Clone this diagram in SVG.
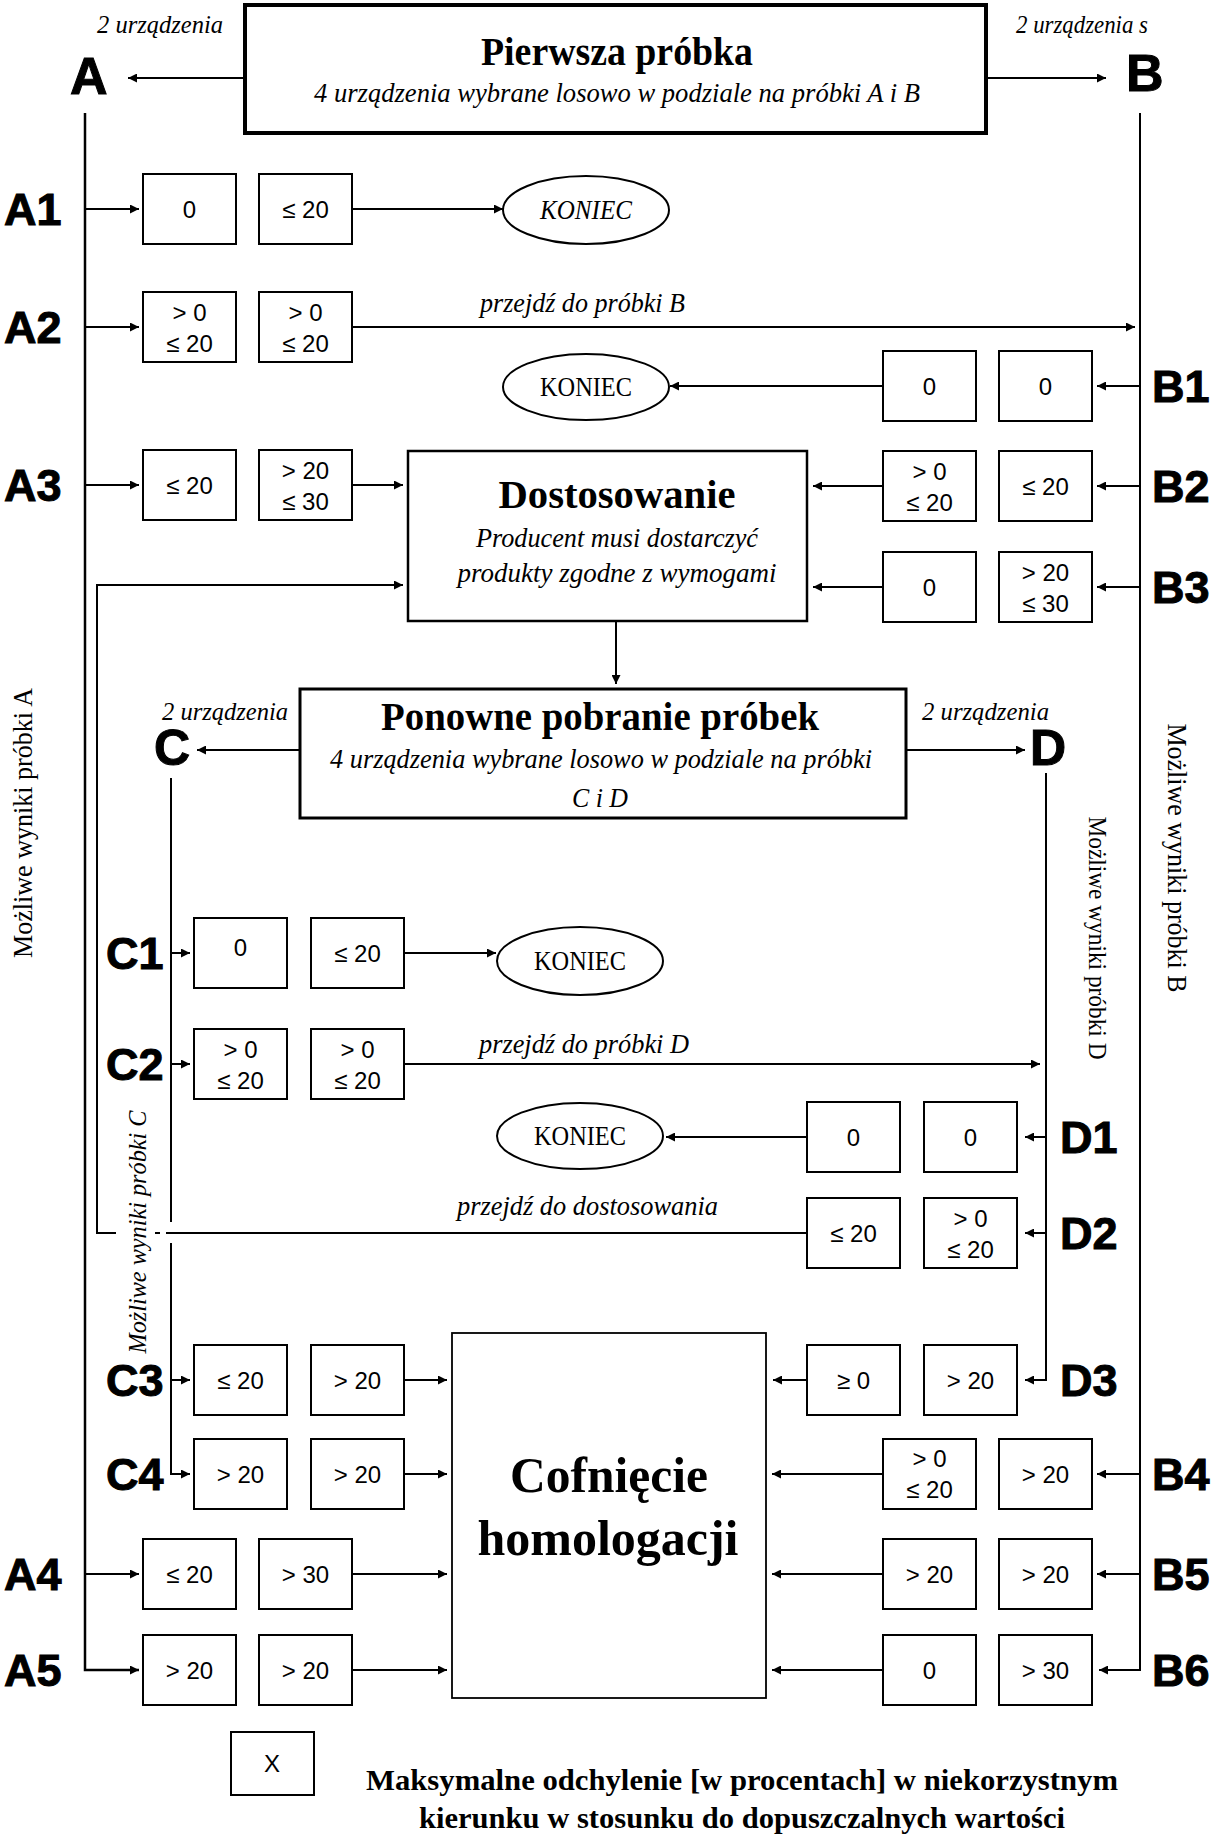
<svg xmlns="http://www.w3.org/2000/svg" width="1217" height="1840" viewBox="0 0 1217 1840">
<style>
.bg{fill:#fff}
.box{fill:#fff;stroke:#000;stroke-width:2}
.bt{font-family:"Liberation Sans",Arial,sans-serif;font-size:24px;text-anchor:middle;fill:#000}
.lbl{font-family:"Liberation Sans",Arial,sans-serif;font-weight:bold;font-size:45px;fill:#000;stroke:#000;stroke-width:1}
.big{font-family:"Liberation Sans",Arial,sans-serif;font-weight:bold;fill:#000;stroke:#000;stroke-width:1}
.it{font-family:"Liberation Serif","Times New Roman",serif;font-style:italic;fill:#000}
.ser{font-family:"Liberation Serif","Times New Roman",serif;fill:#000}
.bold{font-family:"Liberation Serif","Times New Roman",serif;font-weight:bold;fill:#000}
.mid{text-anchor:middle}
.ln{fill:none;stroke:#000;stroke-width:2}
.arr{marker-end:url(#ah)}
.ell{fill:#fff;stroke:#000;stroke-width:2}
</style>
<defs>
<marker id="ah" viewBox="0 0 10 10" refX="10" refY="5" markerWidth="10" markerHeight="9" markerUnits="userSpaceOnUse" orient="auto">
<path d="M0,0 L10,5 L0,10 z" fill="#000"/>
</marker>
</defs>
<rect class="bg" x="0" y="0" width="1217" height="1840"/>

<g id="connectors">
<path class="ln arr" d="M245,78 H128"/>
<path class="ln arr" d="M986,78 H1106"/>
<path class="ln arr" style="stroke-width:2.5" d="M85,113 V1670 H139"/>
<path class="ln arr" d="M1140,113 V1670 H1099"/>
<path class="ln arr" d="M85,209 H139"/>
<path class="ln arr" d="M352,209 H503"/>
<path class="ln arr" d="M85,327 H139"/>
<path class="ln arr" d="M352,327 H1135"/>
<path class="ln arr" d="M85,485 H139"/>
<path class="ln arr" d="M352,485 H403"/>
<path class="ln arr" d="M85,1574 H139"/>
<path class="ln arr" d="M352,1574 H447"/>
<path class="ln arr" d="M352,1670 H447"/>
<path class="ln arr" d="M1140,386 H1097"/>
<path class="ln arr" d="M883,386 H670"/>
<path class="ln arr" d="M1140,486 H1097"/>
<path class="ln arr" d="M883,486 H813"/>
<path class="ln arr" d="M1140,587 H1097"/>
<path class="ln arr" d="M883,587 H813"/>
<path class="ln arr" d="M1140,1474 H1097"/>
<path class="ln arr" d="M883,1474 H772"/>
<path class="ln arr" d="M1140,1574 H1097"/>
<path class="ln arr" d="M883,1574 H772"/>
<path class="ln arr" d="M883,1670 H772"/>
<path class="ln arr" d="M616,621 V684"/>
<path class="ln arr" d="M300,750 H197"/>
<path class="ln arr" d="M906,750 H1025"/>
<path class="ln" d="M171,778 V1222"/>
<path class="ln arr" d="M171,1243 V1474 H190"/>
<path class="ln arr" d="M171,953 H190"/>
<path class="ln arr" d="M405,953 H496"/>
<path class="ln arr" d="M171,1064 H190"/>
<path class="ln arr" d="M405,1064 H1040"/>
<path class="ln arr" d="M171,1380 H190"/>
<path class="ln arr" d="M405,1380 H447"/>
<path class="ln arr" d="M405,1474 H447"/>
<path class="ln arr" d="M1046,773 V1380 H1025"/>
<path class="ln arr" d="M1046,1137 H1025"/>
<path class="ln arr" d="M807,1137 H666"/>
<path class="ln arr" d="M1046,1233 H1025"/>
<path class="ln arr" d="M807,1380 H773"/>
<path class="ln" d="M807,1233 H166"/>
<path class="ln" d="M155,1233 H160"/>
<path class="ln arr" d="M116,1233 H97 V585 H403"/>
<text class="it" x="480" y="312" font-size="27" textLength="205" lengthAdjust="spacingAndGlyphs">przejdź do próbki B</text>
<text class="it" x="479" y="1053" font-size="27" textLength="210" lengthAdjust="spacingAndGlyphs">przejdź do próbki D</text>
<text class="it" x="457" y="1215" font-size="27" textLength="261" lengthAdjust="spacingAndGlyphs">przejdź do dostosowania</text>
</g>

<g id="node-first-sample">
<rect x="245" y="5" width="741" height="128" fill="#fff" stroke="#000" stroke-width="4"/>
<text class="bold mid" x="617" y="65" font-size="40" textLength="272" lengthAdjust="spacingAndGlyphs">Pierwsza próbka</text>
<text class="it mid" x="617" y="102" font-size="28" textLength="606" lengthAdjust="spacingAndGlyphs">4 urządzenia wybrane losowo w podziale na próbki A i B</text>
</g>

<g id="node-A">
<text class="it" x="97" y="33" font-size="26" textLength="126" lengthAdjust="spacingAndGlyphs">2 urządzenia</text>
<text class="big" x="70" y="94" font-size="52">A</text>
</g>
<g id="node-B">
<text class="it" x="1016" y="33" font-size="26" textLength="132" lengthAdjust="spacingAndGlyphs">2 urządzenia s</text>
<text class="big" x="1126" y="91" font-size="52">B</text>
</g>

<g id="label-A" transform="translate(32,823) rotate(-90)">
<text class="ser mid" x="0" y="0" font-size="27" textLength="270" lengthAdjust="spacingAndGlyphs">Możliwe wyniki próbki A</text>
</g>
<g id="label-B" transform="translate(1168,858) rotate(90)">
<text class="ser mid" x="0" y="0" font-size="27" textLength="269" lengthAdjust="spacingAndGlyphs">Możliwe wyniki próbki B</text>
</g>
<g id="label-D" transform="translate(1089,938) rotate(90)">
<text class="ser mid" x="0" y="0" font-size="25" textLength="243" lengthAdjust="spacingAndGlyphs">Możliwe wyniki próbki D</text>
</g>
<g id="label-C" transform="translate(146,1232) rotate(-90)">
<text class="it mid" x="0" y="0" font-size="25" textLength="243" lengthAdjust="spacingAndGlyphs">Możliwe wyniki próbki C</text>
</g>

<g id="row-A1">
<text class="lbl" x="4" y="225">A1</text>
<rect class="box" x="143" y="174" width="93" height="70"/><text class="bt" x="189.5" y="218">0</text>
<rect class="box" x="259" y="174" width="93" height="70"/><text class="bt" x="305.5" y="218">≤ 20</text>
</g>
<g id="koniec-A1">
<ellipse class="ell" cx="586" cy="210" rx="83" ry="34"/>
<text class="it mid" x="586" y="219" font-size="27" textLength="92" lengthAdjust="spacingAndGlyphs">KONIEC</text>
</g>
<g id="row-A2">
<text class="lbl" x="4" y="343">A2</text>
<rect class="box" x="143" y="292" width="93" height="70"/><text class="bt" x="189.5" y="321">&gt; 0</text><text class="bt" x="189.5" y="352">≤ 20</text>
<rect class="box" x="259" y="292" width="93" height="70"/><text class="bt" x="305.5" y="321">&gt; 0</text><text class="bt" x="305.5" y="352">≤ 20</text>
</g>
<g id="row-B1">
<text class="lbl" x="1152" y="402">B1</text>
<rect class="box" x="883" y="351" width="93" height="70"/><text class="bt" x="929.5" y="395">0</text>
<rect class="box" x="999" y="351" width="93" height="70"/><text class="bt" x="1045.5" y="395">0</text>
</g>
<g id="koniec-B1">
<ellipse class="ell" cx="586" cy="387" rx="83" ry="33"/>
<text class="ser mid" x="586" y="396" font-size="27" textLength="92" lengthAdjust="spacingAndGlyphs">KONIEC</text>
</g>
<g id="row-A3">
<text class="lbl" x="4" y="501">A3</text>
<rect class="box" x="143" y="450" width="93" height="70"/><text class="bt" x="189.5" y="494">≤ 20</text>
<rect class="box" x="259" y="450" width="93" height="70"/><text class="bt" x="305.5" y="479">&gt; 20</text><text class="bt" x="305.5" y="510">≤ 30</text>
</g>
<g id="row-B2">
<text class="lbl" x="1152" y="502">B2</text>
<rect class="box" x="883" y="451" width="93" height="70"/><text class="bt" x="929.5" y="480">&gt; 0</text><text class="bt" x="929.5" y="511">≤ 20</text>
<rect class="box" x="999" y="451" width="93" height="70"/><text class="bt" x="1045.5" y="495">≤ 20</text>
</g>
<g id="row-B3">
<text class="lbl" x="1152" y="603">B3</text>
<rect class="box" x="883" y="552" width="93" height="70"/><text class="bt" x="929.5" y="596">0</text>
<rect class="box" x="999" y="552" width="93" height="70"/><text class="bt" x="1045.5" y="581">&gt; 20</text><text class="bt" x="1045.5" y="612">≤ 30</text>
</g>

<g id="node-adjustment">
<rect x="408" y="451" width="399" height="170" fill="#fff" stroke="#000" stroke-width="2.5"/>
<text class="bold mid" x="617" y="508" font-size="40" textLength="237" lengthAdjust="spacingAndGlyphs">Dostosowanie</text>
<text class="it mid" x="617" y="547" font-size="28" textLength="282" lengthAdjust="spacingAndGlyphs">Producent musi dostarczyć</text>
<text class="it mid" x="617" y="582" font-size="28" textLength="319" lengthAdjust="spacingAndGlyphs">produkty zgodne z wymogami</text>
</g>

<g id="node-resampling">
<rect x="300" y="689" width="606" height="129" fill="#fff" stroke="#000" stroke-width="3"/>
<text class="bold mid" x="600" y="730" font-size="40" textLength="438" lengthAdjust="spacingAndGlyphs">Ponowne pobranie próbek</text>
<text class="it mid" x="601" y="768" font-size="28" textLength="542" lengthAdjust="spacingAndGlyphs">4 urządzenia wybrane losowo w podziale na próbki</text>
<text class="it mid" x="600" y="807" font-size="28" textLength="56" lengthAdjust="spacingAndGlyphs">C i D</text>
</g>

<g id="node-C">
<text class="it" x="162" y="720" font-size="26" textLength="126" lengthAdjust="spacingAndGlyphs">2 urządzenia</text>
<text class="big" x="154" y="765" font-size="50">C</text>
</g>
<g id="node-D">
<text class="it" x="922" y="720" font-size="26" textLength="127" lengthAdjust="spacingAndGlyphs">2 urządzenia</text>
<text class="big" x="1030" y="765" font-size="50">D</text>
</g>

<g id="row-C1">
<text class="lbl" x="106" y="969">C1</text>
<rect class="box" x="194" y="918" width="93" height="70"/><text class="bt" x="240.5" y="956">0</text>
<rect class="box" x="311" y="918" width="93" height="70"/><text class="bt" x="357.5" y="962">≤ 20</text>
</g>
<g id="koniec-C1">
<ellipse class="ell" cx="580" cy="961" rx="83" ry="34"/>
<text class="ser mid" x="580" y="970" font-size="27" textLength="92" lengthAdjust="spacingAndGlyphs">KONIEC</text>
</g>
<g id="row-C2">
<text class="lbl" x="106" y="1080">C2</text>
<rect class="box" x="194" y="1029" width="93" height="70"/><text class="bt" x="240.5" y="1058">&gt; 0</text><text class="bt" x="240.5" y="1089">≤ 20</text>
<rect class="box" x="311" y="1029" width="93" height="70"/><text class="bt" x="357.5" y="1058">&gt; 0</text><text class="bt" x="357.5" y="1089">≤ 20</text>
</g>
<g id="row-D1">
<text class="lbl" x="1060" y="1153">D1</text>
<rect class="box" x="807" y="1102" width="93" height="70"/><text class="bt" x="853.5" y="1146">0</text>
<rect class="box" x="924" y="1102" width="93" height="70"/><text class="bt" x="970.5" y="1146">0</text>
</g>
<g id="koniec-D1">
<ellipse class="ell" cx="580" cy="1136" rx="83" ry="33"/>
<text class="ser mid" x="580" y="1145" font-size="27" textLength="92" lengthAdjust="spacingAndGlyphs">KONIEC</text>
</g>
<g id="row-D2">
<text class="lbl" x="1060" y="1249">D2</text>
<rect class="box" x="807" y="1198" width="93" height="70"/><text class="bt" x="853.5" y="1242">≤ 20</text>
<rect class="box" x="924" y="1198" width="93" height="70"/><text class="bt" x="970.5" y="1227">&gt; 0</text><text class="bt" x="970.5" y="1258">≤ 20</text>
</g>

<g id="node-withdrawal">
<rect x="452" y="1333" width="314" height="365" fill="#fff" stroke="#000" stroke-width="1.8"/>
<text class="bold mid" x="609" y="1492" font-size="50" textLength="198" lengthAdjust="spacingAndGlyphs">Cofnięcie</text>
<text class="bold mid" x="608" y="1555" font-size="50" textLength="261" lengthAdjust="spacingAndGlyphs">homologacji</text>
</g>

<g id="row-C3">
<text class="lbl" x="106" y="1396">C3</text>
<rect class="box" x="194" y="1345" width="93" height="70"/><text class="bt" x="240.5" y="1389">≤ 20</text>
<rect class="box" x="311" y="1345" width="93" height="70"/><text class="bt" x="357.5" y="1389">&gt; 20</text>
</g>
<g id="row-D3">
<text class="lbl" x="1060" y="1396">D3</text>
<rect class="box" x="807" y="1345" width="93" height="70"/><text class="bt" x="853.5" y="1389">≥ 0</text>
<rect class="box" x="924" y="1345" width="93" height="70"/><text class="bt" x="970.5" y="1389">&gt; 20</text>
</g>
<g id="row-C4">
<text class="lbl" x="106" y="1490">C4</text>
<rect class="box" x="194" y="1439" width="93" height="70"/><text class="bt" x="240.5" y="1483">&gt; 20</text>
<rect class="box" x="311" y="1439" width="93" height="70"/><text class="bt" x="357.5" y="1483">&gt; 20</text>
</g>
<g id="row-B4">
<text class="lbl" x="1152" y="1490">B4</text>
<rect class="box" x="883" y="1439" width="93" height="70"/><text class="bt" x="929.5" y="1467">&gt; 0</text><text class="bt" x="929.5" y="1498">≤ 20</text>
<rect class="box" x="999" y="1439" width="93" height="70"/><text class="bt" x="1045.5" y="1483">&gt; 20</text>
</g>
<g id="row-A4">
<text class="lbl" x="4" y="1590">A4</text>
<rect class="box" x="143" y="1539" width="93" height="70"/><text class="bt" x="189.5" y="1583">≤ 20</text>
<rect class="box" x="259" y="1539" width="93" height="70"/><text class="bt" x="305.5" y="1583">&gt; 30</text>
</g>
<g id="row-B5">
<text class="lbl" x="1152" y="1590">B5</text>
<rect class="box" x="883" y="1539" width="93" height="70"/><text class="bt" x="929.5" y="1583">&gt; 20</text>
<rect class="box" x="999" y="1539" width="93" height="70"/><text class="bt" x="1045.5" y="1583">&gt; 20</text>
</g>
<g id="row-A5">
<text class="lbl" x="4" y="1686">A5</text>
<rect class="box" x="143" y="1635" width="93" height="70"/><text class="bt" x="189.5" y="1679">&gt; 20</text>
<rect class="box" x="259" y="1635" width="93" height="70"/><text class="bt" x="305.5" y="1679">&gt; 20</text>
</g>
<g id="row-B6">
<text class="lbl" x="1152" y="1686">B6</text>
<rect class="box" x="883" y="1635" width="93" height="70"/><text class="bt" x="929.5" y="1679">0</text>
<rect class="box" x="999" y="1635" width="93" height="70"/><text class="bt" x="1045.5" y="1679">&gt; 30</text>
</g>

<g id="legend">
<rect class="box" x="231" y="1732" width="83" height="63"/>
<text class="bt" x="272" y="1772">X</text>
<text class="bold mid" x="742" y="1790" font-size="29" textLength="752" lengthAdjust="spacingAndGlyphs">Maksymalne odchylenie [w procentach] w niekorzystnym</text>
<text class="bold mid" x="742" y="1828" font-size="29" textLength="646" lengthAdjust="spacingAndGlyphs">kierunku w stosunku do dopuszczalnych wartości</text>
</g>
</svg>
